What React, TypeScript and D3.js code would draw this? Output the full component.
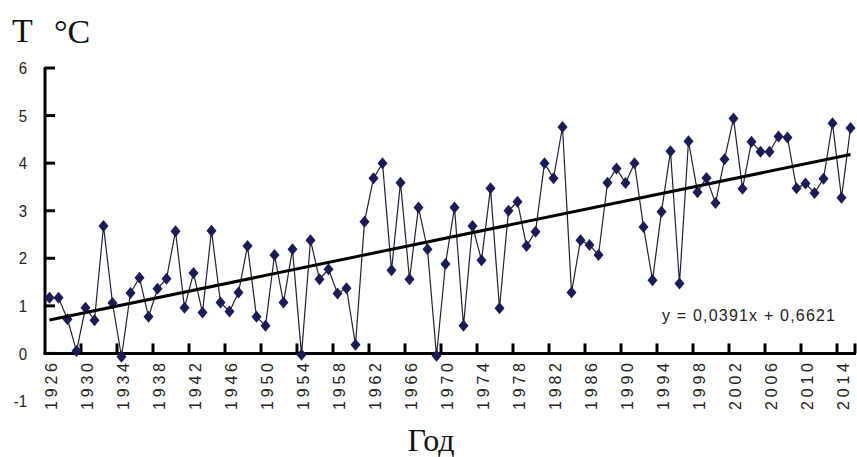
import React from 'react';
import * as d3 from 'd3';

const years = d3.range(1926, 2016);
const temps = [
  1.17, 1.17, 0.72, 0.05, 0.96, 0.7, 2.68, 1.06, -0.07, 1.27,
  1.59, 0.77, 1.36, 1.57, 2.57, 0.96, 1.69, 0.86, 2.58, 1.07,
  0.88, 1.28, 2.26, 0.77, 0.58, 2.07, 1.07, 2.19, -0.03, 2.38,
  1.56, 1.77, 1.26, 1.37, 0.18, 2.77, 3.68, 4.0, 1.75, 3.59,
  1.56, 3.07, 2.19, -0.05, 1.88, 3.07, 0.58, 2.68, 1.96, 3.47,
  0.95, 3.0, 3.19, 2.26, 2.56, 4.0, 3.68, 4.76, 1.28, 2.38,
  2.28, 2.07, 3.59, 3.89, 3.58, 4.0, 2.66, 1.54, 2.98, 4.25,
  1.47, 4.46, 3.39, 3.69, 3.16, 4.08, 4.94, 3.46, 4.45, 4.24,
  4.24, 4.56, 4.54, 3.47, 3.57, 3.37, 3.67, 4.84, 3.27, 4.74,
];
const yTicks = [-1, 0, 1, 2, 3, 4, 5, 6];
const labelYears = d3.range(1926, 2016, 4);
// linear trend from the source chart, x = 1..n
const trendSlope = 0.0391;
const trendIntercept = 0.6621;
const trendLabel = 'y = 0,0391x + 0,6621';

const W = 857;
const H = 457;
const left = 45;
const right = 855;
const top = 68;
const bottom = 401;

export default function App() {
  const x = d3.scaleBand<number>().domain(years).range([left, right]).padding(0);
  const cx = (yr: number) => (x(yr) as number) + x.bandwidth() / 2;
  const y = d3.scaleLinear().domain([-1, 6]).range([bottom, top]);

  const line = d3.line<number>()
    .x((_, i) => cx(years[i]))
    .y(d => y(d));

  const n = years.length;
  const trend = d3.line<number>()
    .x(i => cx(years[i - 1]))
    .y(i => y(trendSlope * i + trendIntercept));

  const diamond = (px: number, py: number) =>
    `M${px},${py - 6}L${px + 5},${py}L${px},${py + 6}L${px - 5},${py}Z`;

  const tickXs = labelYears.slice(1).map(yr => x(yr) as number).concat([right]);
  const y0 = y(0);
  const navy = '#1b1b55';
  const sans = 'Liberation Sans, Arial, sans-serif';
  const serif = 'Liberation Serif, Times New Roman, serif';

  return (
    <svg width={W} height={H} style={{ position: 'absolute', left: 0, top: 0, background: '#fff' }}>
      {/* title */}
      <text x={12} y={42} fontFamily={serif} fontSize={34} fill="#111">T</text>
      <text x={54} y={43} fontFamily={serif} fontSize={34} fill="#111">°C</text>

      {/* y axis */}
      <line x1={left} x2={left} y1={y(6) - 1} y2={y0} stroke="#000" strokeWidth={3} />
      {yTicks.filter(t => t >= 0).map(t => (
        <line key={'yt' + t} x1={left} x2={left + 10} y1={y(t)} y2={y(t)} stroke="#000" strokeWidth={3} />
      ))}
      {yTicks.map(t => (
        <text key={'yl' + t} x={27} y={y(t)} dy="0.36em" textAnchor="end"
          transform={`translate(0,${-y(t) * 0.15}) scale(1,1.15)`}
          fontFamily={sans} fontSize={15} fill="#222">{t}</text>
      ))}

      {/* x axis */}
      <line x1={left - 1.5} x2={right + 1} y1={y0} y2={y0} stroke="#000" strokeWidth={3} />
      {tickXs.map((tx, i) => (
        <line key={'xt' + i} x1={tx} x2={tx} y1={y0} y2={y0 - 10} stroke="#000" strokeWidth={3} />
      ))}
      {labelYears.map(yr => (
        <text key={'xl' + yr} transform={`translate(${cx(yr) + 1.5},${363}) rotate(-90)`}
          textAnchor="end" dominantBaseline="central" textLength={47} lengthAdjust="spacing"
          fontFamily={sans} fontSize={16} fill="#222">{yr}</text>
      ))}

      {/* series */}
      <path d={line(temps) || ''} fill="none" stroke="#202035" strokeWidth={1.2} />
      {temps.map((v, i) => (
        <path key={'m' + i} d={diamond(cx(years[i]), y(v))} fill={navy} />
      ))}

      {/* trend */}
      <path d={trend([1, n]) || ''} fill="none" stroke="#000" strokeWidth={3} />
      <text x={662} y={321} textLength={173} lengthAdjust="spacing"
        fontFamily={sans} fontSize={16} fill="#222">{trendLabel}</text>

      {/* x title */}
      <text x={431} y={451} textAnchor="middle" fontFamily={serif}
        fontSize={32} fill="#111">Год</text>
    </svg>
  );
}
